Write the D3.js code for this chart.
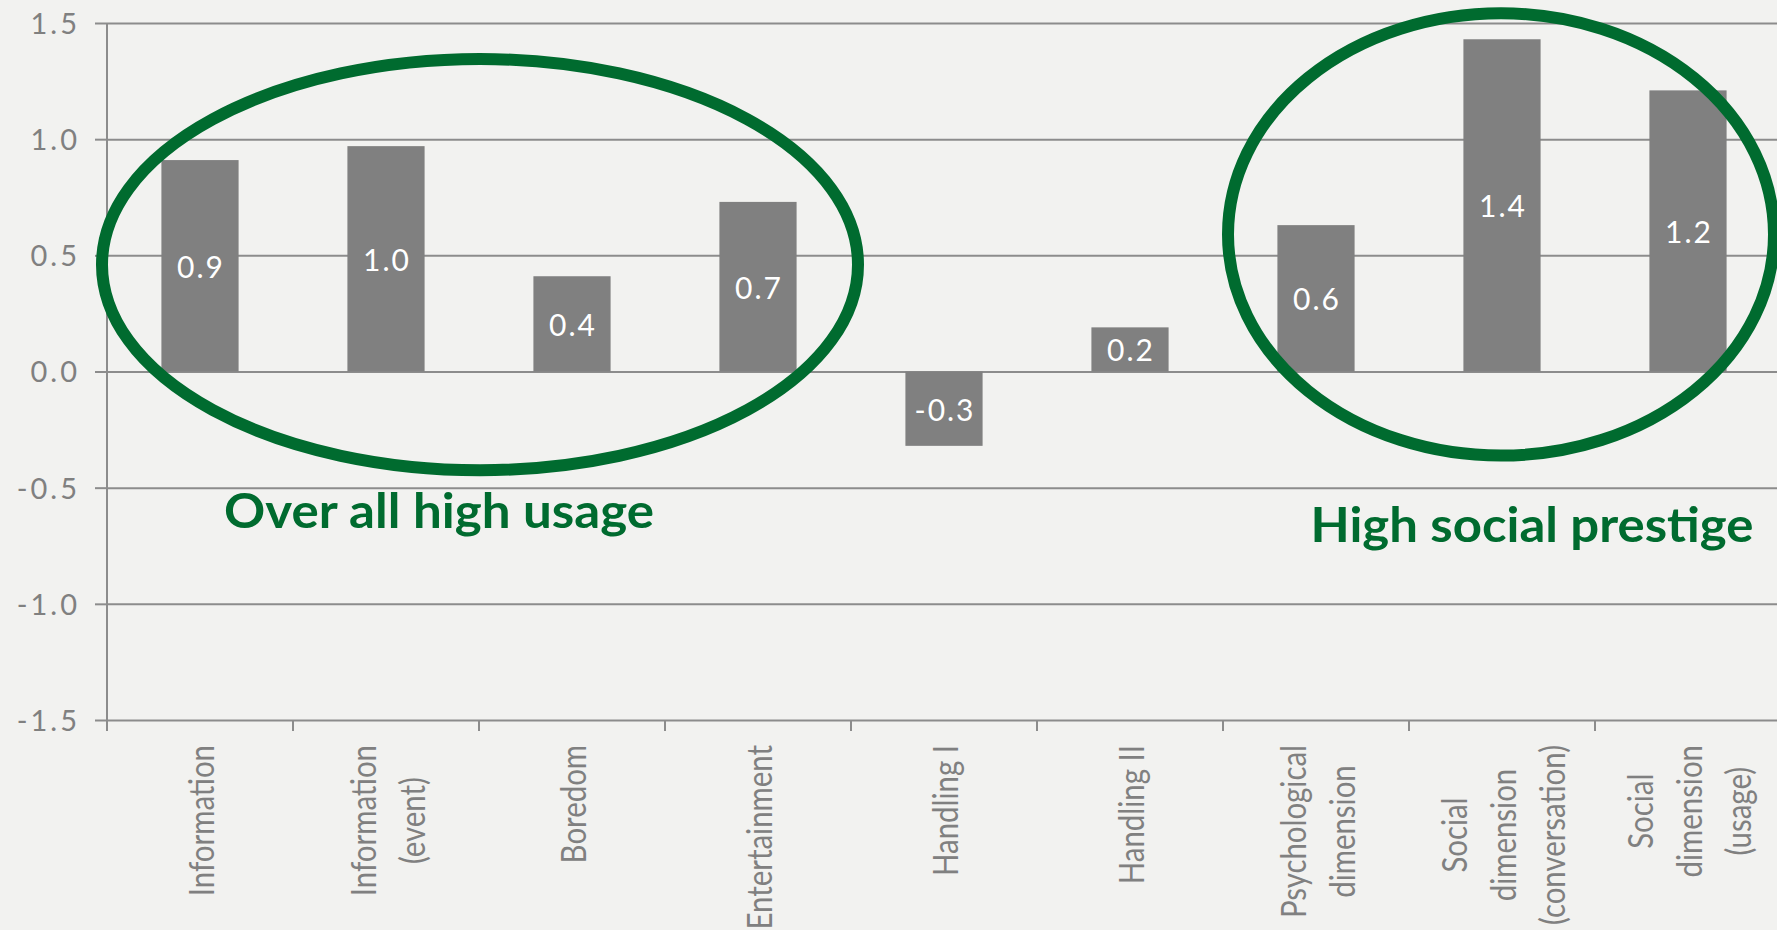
<!DOCTYPE html>
<html>
<head>
<meta charset="utf-8">
<script src="https://cdn.jsdelivr.net/npm/d3@7"></script>
<style>
  html, body { margin: 0; padding: 0; background: #f2f2f0; }
  svg { display: block; }
</style>
</head>
<body>
<svg id="chart" width="1777" height="930"></svg>
<script>
// Motive dimensions and their mean scores
const categories = [
  "Information", "Information (event)", "Boredom", "Entertainment",
  "Handling I", "Handling II", "Psychological dimension",
  "Social dimension (conversation)", "Social dimension (usage)"
];
// Line breaks used for the rotated category labels
const categoryLines = [
  ["Information"], ["Information", "(event)"], ["Boredom"], ["Entertainment"],
  ["Handling I"], ["Handling II"], ["Psychological", "dimension"],
  ["Social", "dimension", "(conversation)"], ["Social", "dimension", "(usage)"]
];
const values = [0.91, 0.97, 0.41, 0.73, -0.32, 0.19, 0.63, 1.43, 1.21];
const yTicks = [-1.5, -1.0, -0.5, 0.0, 0.5, 1.0, 1.5];

// Highlight groups: category span and vertical extent (value units)
const groupNames = ["Over all high usage", "High social prestige"];
const groupFrom = ["Information", "Psychological dimension"];
const groupTo = ["Entertainment", "Social dimension (usage)"];
const groupCenter = [0.46, 0.59];
const groupRadius = [0.885, 0.952];
const groupLabelValue = [-0.675, -0.735];

(function draw() {
  const W = 1777, H = 930;
  const plotLeft = 107, plotRight = 1781, plotTop = 23, plotBottom = 720;
  const grey = "#808080", gridCol = "#8c8c8c", green = "#006b2f";
  const fam = "Lato, 'Open Sans', sans-serif";

  const svg = d3.select("#chart");
  svg.append("rect").attr("width", W).attr("height", H).attr("fill", "#f2f2f0");

  const x = d3.scaleBand().domain(categories).range([plotLeft, plotRight]).padding(0);
  const y = d3.scaleLinear().domain([-1.5, 1.5]).range([plotBottom, plotTop]);
  const step = x.step();
  const fmt = v => d3.format(".1f")(v).replace("\u2212", "-");

  // horizontal grid + y axis
  const yAxis = d3.axisLeft(y).tickValues(yTicks).tickFormat(fmt)
    .tickSize(-(plotRight - plotLeft)).tickPadding(18);
  const gy = svg.append("g").attr("transform", `translate(${plotLeft},0)`).call(yAxis);
  gy.select(".domain").remove();
  gy.selectAll(".tick line").attr("stroke", gridCol).attr("stroke-width", 2);
  gy.selectAll(".tick").append("line")
    .attr("x1", -12).attr("x2", 0).attr("stroke", gridCol).attr("stroke-width", 2);
  gy.selectAll(".tick text")
    .attr("fill", grey).attr("font-family", fam)
    .attr("font-weight", 400).attr("font-size", 29).attr("letter-spacing", 3)
    .attr("dy", "0.36em").attr("x", -27);

  // vertical axis line
  svg.append("line").attr("x1", plotLeft).attr("x2", plotLeft)
    .attr("y1", plotTop).attr("y2", plotBottom + 11)
    .attr("stroke", gridCol).attr("stroke-width", 2);

  // category tick marks along the bottom
  const bounds = categories.map(c => x(c)).concat([plotRight]);
  svg.append("g").selectAll("line").data(bounds).join("line")
    .attr("x1", d => d).attr("x2", d => d)
    .attr("y1", plotBottom).attr("y2", plotBottom + 11)
    .attr("stroke", gridCol).attr("stroke-width", 2);

  // bars
  const barW = step * 0.415;
  svg.append("g").selectAll("rect").data(values).join("rect")
    .attr("x", (d, i) => x(categories[i]) + (step - barW) / 2)
    .attr("width", barW)
    .attr("y", d => y(Math.max(0, d)))
    .attr("height", d => Math.abs(y(d) - y(0)))
    .attr("fill", "#808080");

  // value labels inside bars
  svg.append("g").selectAll("text").data(values).join("text")
    .attr("x", (d, i) => x(categories[i]) + step / 2 + 1)
    .attr("y", d => (y(d) + y(0)) / 2)
    .attr("text-anchor", "middle").attr("dominant-baseline", "central")
    .attr("fill", "#ffffff").attr("font-family", fam)
    .attr("font-size", 30).attr("letter-spacing", 2)
    .text(d => fmt(d));

  // rotated category labels
  const condense = 0.84, lineGap = 49, labelTop = 745;
  categoryLines.forEach((lines, i) => {
    const cx = x(categories[i]) + step / 2;
    const g = svg.append("g");
    const texts = lines.map(ln => g.append("text")
      .attr("font-family", fam)
      .attr("font-weight", 400).attr("font-size", 35)
      .attr("fill", grey).attr("text-anchor", "middle")
      .attr("dominant-baseline", "central")
      .text(ln));
    const lens = texts.map(t => t.node().getComputedTextLength() * condense);
    const maxLen = d3.max(lens);
    texts.forEach((t, j) => {
      const lx = cx + (j - (lines.length - 1) / 2) * lineGap;
      const ly = labelTop + maxLen / 2;
      t.attr("textLength", lens[j]).attr("lengthAdjust", "spacingAndGlyphs")
       .attr("transform", `translate(${lx},${ly}) rotate(-90)`);
    });
  });

  // highlight ellipses and their captions
  const pads = [6, -6];
  const shifts = [1, -1];
  groupNames.forEach((name, i) => {
    const x0 = x(groupFrom[i]), x1 = x(groupTo[i]) + step;
    svg.append("ellipse")
      .attr("cx", (x0 + x1) / 2 + shifts[i]).attr("cy", y(groupCenter[i]))
      .attr("rx", (x1 - x0) / 2 + pads[i])
      .attr("ry", y(0) - y(groupRadius[i]))
      .attr("fill", "none").attr("stroke", green).attr("stroke-width", 12);
  });
  const captionX = [439, 1532];
  const captionW = [430, 443];
  groupNames.forEach((name, i) => {
    svg.append("text")
      .attr("x", captionX[i]).attr("y", y(groupLabelValue[i]))
      .attr("text-anchor", "middle")
      .attr("font-family", fam)
      .attr("font-weight", 700).attr("font-size", 48)
      .attr("fill", green)
      .attr("textLength", captionW[i]).attr("lengthAdjust", "spacingAndGlyphs")
      .text(name);
  });
})();
</script>
</body>
</html>
